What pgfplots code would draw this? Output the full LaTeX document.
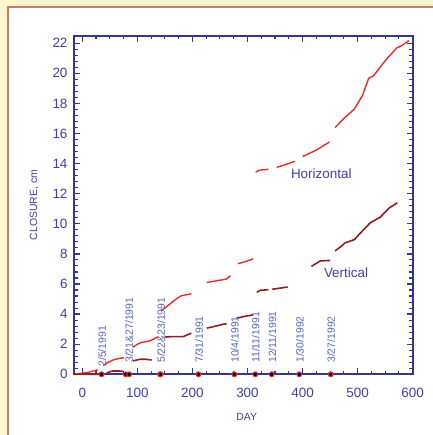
\documentclass[border=0pt]{standalone}
\usepackage{pgfplots}
\pgfplotsset{compat=1.18}
\usepackage{fontspec}
\setmainfont{Liberation Sans}
\definecolor{bgy}{HTML}{FDF6CF}
\definecolor{framec}{HTML}{C08060}
\definecolor{axblue}{HTML}{34349A}
\definecolor{txblue}{HTML}{4040A6}
\definecolor{lblblue}{HTML}{5866B4}
\definecolor{hred}{HTML}{EE2A2A}
\definecolor{vred}{HTML}{8E2020}
\begin{document}
\begin{tikzpicture}
\useasboundingbox (0,0) rectangle (433bp,435bp);
\clip (0,0) rectangle (433bp,435bp);
\fill[bgy] (0,0) rectangle (433bp,435bp);
\filldraw[fill=white, draw=framec, line width=1.2bp] (8bp,-5bp) rectangle (445bp,428bp);
\begin{axis}[
  at={(74bp,60.7bp)}, anchor=south west,
  width=338.7bp, height=338.6bp, scale only axis,
  xmin=-15, xmax=600, ymin=0, ymax=22.5,
  xtick={0,100,...,600}, ytick={0,2,...,22},
  minor x tick num=3, minor y tick num=4,
  tick align=inside,
  major tick length=6bp, minor tick length=3.5bp,
  axis line style={axblue, line width=1.8bp},
  major tick style={axblue, line width=1.3bp},
  minor tick style={axblue, line width=1.1bp},
  tick label style={txblue, font=\fontsize{13.5}{15}\selectfont},
  xticklabel style={yshift=-10bp},
  yticklabel style={xshift=-3bp},
  /pgf/number format/assume math mode=true,
  xlabel={DAY}, ylabel={CLOSURE, cm},
  label style={txblue, font=\fontsize{10.5}{12}\selectfont},
  xlabel style={at={(axis description cs:0.51,-0.125)}, anchor=center},
  ylabel style={at={(axis description cs:-0.118,0.5)}, anchor=center},
  unbounded coords=jump,
  clip=false,
]
% Horizontal
\addplot[hred, line width=1.4bp] coordinates {
(-15,0) (10,0.12) (28,0.3) (nan,nan)
(38,0.57) (47,0.8) (56,0.95) (66,1.05) (76,1.1) (nan,nan)
(92,1.8) (100,2.0) (108,2.12) (123,2.22) (138,2.5) (nan,nan)
(143,4.25) (150,4.4) (162,4.75) (172,5.05) (180,5.22) (198,5.35) (nan,nan)
(226,6.1) (245,6.22) (262,6.33) (269,6.55) (nan,nan)
(283,7.35) (297,7.5) (310,7.67) (nan,nan)
(315,13.44) (322,13.57) (338,13.62) (nan,nan)
(353,13.75) (370,13.95) (386,14.15) (nan,nan)
(400,14.47) (425,14.9) (449,15.44) (nan,nan)
(459,16.4) (477,17.07) (494,17.62) (509,18.55) (520,19.67) (529,19.84) (550,20.84) (571,21.69) (580,21.84) (593,22.17)
};
% Vertical
\addplot[vred, line width=1.6bp] coordinates {
(-15,0) (33,0) (nan,nan)
(44,0.07) (50,0.17) (56,0.22) (66,0.22) (74,0.2) (nan,nan)
(92,0.89) (105,1.0) (115,1.0) (126,0.95) (nan,nan)
(150,2.47) (160,2.5) (183,2.5) (198,2.73) (nan,nan)
(226,3.07) (240,3.18) (256,3.33) (262,3.35) (nan,nan)
(280,3.73) (295,3.85) (310,3.95) (nan,nan)
(317,5.44) (323,5.58) (338,5.62) (nan,nan)
(345,5.65) (373,5.8) (nan,nan)
(416,7.17) (432,7.53) (450,7.57) (nan,nan)
(459,8.2) (470,8.5) (477,8.73) (494,8.95) (508,9.5) (523,10.07) (541,10.44) (558,11.07) (572,11.4)
};
% survey dates
\addplot[only marks, mark=*, mark size=2.4bp, mark options={fill=black, draw=hred, line width=1.1bp}] coordinates {
(35,0) (79,0) (85,0) (141,0) (142,0) (211,0) (276,0) (314,0) (344,0) (394,0) (451,0)
};
\begin{scope}[every node/.style={rotate=90, anchor=west, lblblue, font=\fontsize{10.5}{12}\selectfont, inner sep=0pt}]
\node at (axis cs:36,0.5) {2/5/1991};
\node at (axis cs:85,0.75) {3/21\&27/1991};
\node at (axis cs:143,0.75) {5/22\&23/1991};
\node at (axis cs:212,0.75) {7/31/1991};
\node at (axis cs:277,0.75) {10/4/1991};
\node at (axis cs:315,0.75) {11/11/1991};
\node at (axis cs:345,0.75) {12/11/1991};
\node at (axis cs:395,0.75) {1/30/1992};
\node at (axis cs:452,0.75) {3/27/1992};
\end{scope}
\node[txblue, font=\fontsize{13.5}{15}\selectfont] at (axis cs:434,13.35) {Horizontal};
\node[txblue, font=\fontsize{13.5}{15}\selectfont] at (axis cs:479,6.75) {Vertical};
\end{axis}
\end{tikzpicture}
\end{document}
